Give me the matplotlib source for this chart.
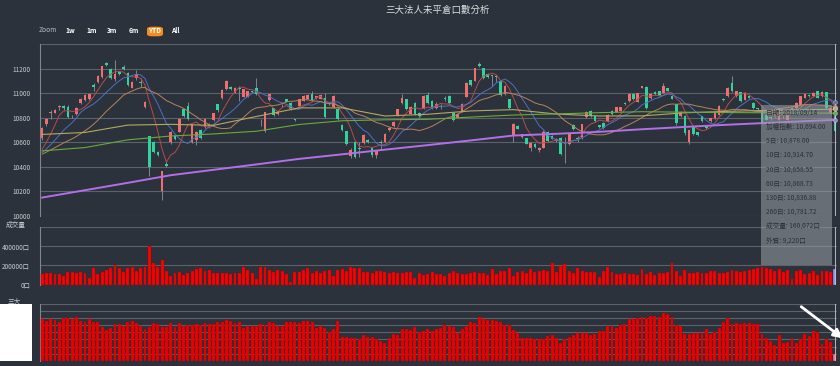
import matplotlib
matplotlib.use("Agg")
import matplotlib.pyplot as plt
from matplotlib.patches import Rectangle, FancyBboxPatch, FancyArrowPatch
import numpy as np
import pandas as pd

plt.rcParams['font.family'] = ['Noto Sans CJK TC', 'DejaVu Sans']

# ---- data ----
title = "三大法人未平倉口數分析"

opens = [10631, 10746, 10838, 10841, 10888, 10895, 10890, 10818, 10827, 10922,
         10942, 10950, 11064, 11091, 11132, 11243, 11200, 11113, 11175, 11216,
         11167, 11045, 11127, 11090, 10887, 10650, 10604, 10523, 10207, 10425,
         10604, 10648, 10686, 10868, 10895, 10604, 10615, 10697, 10724, 10735,
         10778, 10909, 10963, 11031, 11053, 11004, 11040, 10972, 10972, 11013,
         11040, 10740, 10691, 10944, 10876, 10833, 10900, 10950, 10920, 10783,
         10895, 10940, 10955, 10996, 10960, 10955, 10958, 10915, 10887, 10868,
         10740, 10691, 10487, 10604, 10550, 10597, 10620, 10555, 10495, 10600,
         10604, 10700, 10730, 10814, 10922, 10950, 10833, 10922, 10835, 10876,
         10982, 10940, 10880, 10895, 10960, 10977, 10841, 10800, 10854, 10969,
         11105, 11099, 11241, 11203, 11155, 11140, 11135, 11099, 10990, 10950,
         10651, 10735, 10640, 10631, 10555, 10590, 10540, 10555, 10686, 10655,
         10610, 10631, 10590, 10588, 10738, 10630, 10637, 10805, 10854, 10810,
         10738, 10760, 10773, 10854, 10850, 10858, 10915, 10936, 10996, 10930,
         11045, 11050, 10960, 11010, 11015, 11004, 11040, 10980, 10909, 10810,
         10814, 10604, 10725, 10680, 10811, 10729, 10770, 10797, 10825, 10948,
         10975, 11085, 10975, 11008, 10948, 10975, 10920, 10872, 10866, 10825,
         10799, 10811, 10784, 10813, 10784, 10880, 10880, 10907, 10962, 10977,
         10975, 11016, 10975, 11008, 10838, 10811]
closes = [10713, 10792, 10842, 10863, 10891, 10882, 10808, 10812, 10882, 10955,
          10985, 10990, 11050, 11140, 11222, 11227, 11127, 11154, 11154, 11195,
          11067, 11094, 11159, 11085, 10931, 10397, 10523, 10500, 10365, 10410,
          10686, 10625, 10787, 10814, 10792, 10746, 10686, 10637, 10792, 10738,
          10835, 10860, 11026, 11099, 11031, 11045, 11036, 11031, 11017, 11010,
          10990, 10738, 10846, 10990, 10822, 10849, 10905, 10930, 10875, 10781,
          10950, 10980, 10982, 10942, 10975, 10985, 10806, 10912, 10977, 10786,
          10697, 10582, 10541, 10479, 10545, 10659, 10604, 10500, 10530, 10598,
          10670, 10720, 10765, 10868, 10963, 10868, 10887, 10827, 10815, 10977,
          10922, 10876, 10915, 10890, 10955, 10922, 10778, 10830, 10914, 11086,
          11067, 11203, 11222, 11121, 11130, 11138, 11133, 10985, 11059, 10876,
          10751, 10710, 10665, 10588, 10596, 10560, 10550, 10686, 10609, 10630,
          10630, 10501, 10585, 10664, 10705, 10628, 10746, 10849, 10814, 10770,
          10722, 10718, 10822, 10830, 10885, 10885, 10912, 10996, 10950, 11000,
          11055, 10876, 10995, 10990, 10985, 11059, 11020, 10955, 10759, 10850,
          10678, 10697, 10665, 10660, 10770, 10715, 10797, 10844, 10899, 10946,
          11044, 11016, 11016, 10934, 11003, 10962, 10880, 10870, 10756, 10783,
          10797, 10871, 10880, 10811, 10825, 10866, 10920, 10975, 10989, 10975,
          11003, 10962, 11008, 10880, 10880, 10694]
highs = [10722, 10800, 10860, 10870, 10905, 10905, 10905, 10825, 10890, 10960,
         10990, 10995, 11085, 11145, 11225, 11250, 11205, 11268, 11180, 11230,
         11175, 11100, 11190, 11120, 10940, 10655, 10610, 10530, 10370, 10445,
         10695, 10655, 10795, 10875, 10925, 10750, 10690, 10705, 10800, 10760,
         10840, 10915, 11030, 11105, 11060, 11050, 11055, 11035, 11020, 11020,
         11120, 10790, 10850, 10995, 10880, 10855, 10915, 10955, 10925, 10790,
         10955, 10985, 10990, 11020, 10980, 10990, 11000, 10930, 10985, 10875,
         10745, 10695, 10550, 10610, 10600, 10665, 10625, 10560, 10535, 10620,
         10675, 10725, 10770, 10875, 10990, 10955, 10892, 10930, 10845, 10985,
         11010, 10945, 10925, 10910, 10980, 10985, 10850, 10835, 10920, 11090,
         11110, 11208, 11250, 11208, 11160, 11145, 11145, 11105, 11063, 10955,
         10755, 10740, 10670, 10636, 10600, 10595, 10560, 10700, 10690, 10660,
         10635, 10640, 10640, 10670, 10745, 10650, 10750, 10855, 10860, 10815,
         10742, 10765, 10827, 10860, 10890, 10890, 10925, 11000, 11000, 11005,
         11060, 11055, 11000, 11015, 11020, 11085, 11045, 10985, 10915, 10855,
         10820, 10700, 10730, 10685, 10815, 10735, 10800, 10850, 10905, 10960,
         11050, 11140, 11020, 11012, 11008, 10980, 10925, 10880, 10870, 10830,
         10810, 10876, 10885, 10820, 10830, 10885, 10925, 10980, 11000, 10990,
         11008, 11020, 11015, 11012, 10885, 10815]
lows = [10622, 10735, 10790, 10835, 10865, 10860, 10800, 10800, 10820, 10915,
        10935, 10945, 11020, 11085, 11125, 11220, 11115, 11100, 11145, 11185,
        11060, 11040, 11110, 11050, 10880, 10324, 10515, 10490, 10134, 10395,
        10590, 10615, 10680, 10808, 10785, 10595, 10580, 10625, 10715, 10715,
        10770, 10850, 10955, 11025, 11025, 11000, 10940, 10965, 10965, 11000,
        10985, 10735, 10685, 10935, 10815, 10825, 10890, 10925, 10865, 10770,
        10890, 10935, 10950, 10935, 10955, 10950, 10800, 10900, 10880, 10780,
        10690, 10575, 10470, 10470, 10480, 10590, 10598, 10480, 10470, 10540,
        10600, 10695, 10725, 10810, 10915, 10860, 10828, 10820, 10800, 10870,
        10915, 10870, 10875, 10870, 10940, 10915, 10770, 10795, 10850, 10965,
        11060, 11095, 11215, 11115, 11125, 11060, 11090, 10980, 10985, 10870,
        10600, 10705, 10635, 10582, 10530, 10555, 10525, 10550, 10605, 10625,
        10605, 10495, 10430, 10580, 10700, 10600, 10630, 10800, 10808, 10765,
        10715, 10712, 10768, 10825, 10845, 10852, 10905, 10930, 10945, 10925,
        11040, 10870, 10955, 10985, 10980, 11000, 11015, 10950, 10740, 10805,
        10660, 10590, 10660, 10655, 10765, 10710, 10765, 10790, 10820, 10935,
        10970, 11010, 10970, 10930, 10944, 10958, 10875, 10860, 10750, 10778,
        10785, 10805, 10778, 10800, 10780, 10860, 10875, 10900, 10958, 10965,
        10970, 10958, 10970, 10875, 10830, 10690]

# closes before the first shown day (only feed the short moving averages)
prior_closes = [10470, 10480, 10500, 10510, 10495, 10480, 10470, 10490, 10505, 10515,
                10500, 10485, 10490, 10500, 10480, 10495, 10500, 10505, 10495]

# long moving averages read every 10 days
long_ma_idx = [0, 10, 20, 30, 40, 50, 60, 70, 80, 90, 100, 110, 120, 130, 140, 150, 160, 170, 180, 185]
ma60 = [10664, 10680, 10740, 10746, 10738, 10810, 10880, 10880, 10814, 10828,
        10855, 10866, 10830, 10814, 10815, 10840, 10852, 10860, 10866, 10869]
ma130 = [10530, 10557, 10620, 10651, 10668, 10690, 10745, 10775, 10783, 10787,
         10805, 10822, 10831, 10841, 10849, 10845, 10842, 10840, 10838, 10837]
ma260 = [10150, 10210, 10270, 10332, 10376, 10420, 10465, 10502, 10540, 10577,
         10615, 10655, 10669, 10685, 10706, 10725, 10743, 10759, 10775, 10782]

volume = [110, 117, 117, 107, 107, 93, 131, 134, 124, 131,
          121, 66, 176, 107, 134, 152, 169, 203, 169, 134,
          169, 186, 141, 169, 179, 400, 228, 179, 255, 145,
          93, 124, 131, 100, 117, 145, 159, 169, 141, 152,
          120, 117, 121, 117, 107, 124, 117, 186, 152, 124, 59,
          186, 179, 152, 134, 152, 145, 114, 24, 134, 134,
          152, 169, 117, 138, 124, 141, 152, 90, 152, 162,
          141, 186, 169, 176, 134, 131, 117, 141, 138, 134,
          117, 134, 117, 124, 134, 134, 66, 124,
          100, 110, 134, 110, 110, 93, 117, 145, 124, 110,
          110, 117, 131, 124, 124, 100, 159, 110, 141, 141,
          169, 90, 134, 141, 117, 159, 131, 145, 152, 145,
          221, 131, 193, 214, 145, 117, 176, 145, 131, 134, 130,
          79, 145, 186, 131, 110, 110, 117, 114, 110, 100,
          159, 107, 131, 100, 117, 117, 131, 221, 141, 90,
          152, 117, 117, 131, 124, 124, 141, 141, 124, 124,
          131, 152, 141, 134, 141, 152, 162, 169, 186, 169,
          159, 138, 159, 131, 152, 55, 145, 152, 107, 117,
          145, 100, 145, 141, 134, 160.072]
volume = [v * 1000 for v in volume]

big3 = [29140, 28200, 29140, 28670, 27500, 29850, 29850, 29140, 30550, 28200,
        27500, 29140, 27500, 27500, 23500, 21620, 22800, 25850, 25850, 24440,
        27260, 27730, 26320, 24680, 22330, 23500, 26320, 25620, 23970, 23970,
        26320, 23970, 26320, 24440, 25150, 25150, 25620, 25150, 26320, 25850,
        26000, 27500, 27260, 28670, 27730, 26790, 27260, 23030, 24440, 24680, 24680,
        25620, 25150, 27030, 26320, 24440, 24440, 27260, 27260, 27260, 26320,
        27730, 27730, 27260, 23030, 24440, 23030, 20210, 22560, 27970, 16920,
        16450, 15980, 15980, 15510, 17860, 16920, 16920, 15040, 13630, 12690,
        15980, 18800, 18100, 22560, 22560, 21620, 23500, 20210,
        20900, 22560, 21150, 22090, 23270, 24910, 24440, 23500, 19510, 22090,
        24680, 27030, 26320, 31020, 29380, 28670, 28440, 28200, 27260, 24910,
        25150, 21860, 19270, 16220, 15750, 15750, 15040, 15040, 15040, 17390,
        17860, 15750, 12220, 15040, 16690, 17860, 19270, 19270, 19270, 18330, 19000,
        20680, 21150, 24440, 24440, 22800, 24910, 25850, 29140, 29140, 30080,
        30550, 30080, 31490, 31490, 31020, 33370, 32670, 31020, 24910, 24440,
        18800, 18800, 19270, 19270, 19270, 22090, 18800, 20210, 23030, 27260,
        29850, 25850, 26320, 25850, 26320, 26320, 25850, 25850, 18800, 16220,
        14100, 11050, 17860, 12220, 13400, 15980, 12690, 15510, 18800, 17390,
        20680, 20210, 11750, 15040, 13400, 4700]

tooltip_lines = ["日期: 2018/09/14", "加權指數: 10,694.00", "5日: 10,878.00", "10日: 10,914.70",
                 "20日: 10,858.55", "60日: 10,868.73", "130日: 10,836.88", "260日: 10,781.72",
                 "成交量: 160,072口", "外資: 9,220口"]
zoom_buttons = ["1w", "1m", "3m", "6m", "YTD", "All"]

# ---- figure ----
W, H = 840, 366
bg = '#2b323b'
grid_c = '#5c626a'
text_c = '#c9cbcf'

fig = plt.figure(figsize=(W / 100, H / 100), dpi=100, facecolor=bg)


def fx(x):
    return x / W


def fy(y):
    return 1 - y / H


n = len(closes)
x = np.arange(n)
opens = np.array(opens)
closes = np.array(closes)


def style(ax, ylo, yhi, ticks, labels):
    ax.set_facecolor(bg)
    ax.set_xlim(-0.5, n - 0.5)
    ax.set_ylim(ylo, yhi)
    for s in ['top', 'right', 'bottom']:
        ax.spines[s].set_visible(False)
    ax.spines['left'].set_color('#80868d')
    ax.spines['left'].set_linewidth(0.8)
    ax.set_xticks([])
    ax.set_yticks(ticks)
    ax.set_yticklabels(labels)
    ax.tick_params(axis='y', length=0, pad=7, labelsize=4.6, labelcolor=text_c)
    for t in ticks:
        ax.axhline(t, color=grid_c, lw=0.8, zorder=0)


ax1 = fig.add_axes([fx(40), fy(216), fx(797), 172 / H])
ax2 = fig.add_axes([fx(40), fy(284.7), fx(797), 58 / H])
ax3 = fig.add_axes([fx(40), fy(360.7), fx(797), 56.7 / H])

pticks = list(range(10000, 11401, 200))
style(ax1, 10000, 11400, pticks, [str(t) for t in pticks[:-1]] + [""])
vticks = [0, 200000, 400000, 600000]
style(ax2, 0, 600000, vticks, ["0口", "200000口", "400000口", ""])
bticks = list(range(0, 40001, 5000))
style(ax3, 0, 40000, bticks, [""] * len(bticks))

# candles
up = closes >= opens
ccol = np.where(up, '#f26d70', '#2fd39b')
ax1.vlines(x, lows, highs, color='#8d949b', lw=0.6, zorder=2)
body = np.maximum(np.abs(closes - opens), 6)
ax1.bar(x, body, bottom=np.minimum(opens, closes), width=0.62, color=ccol, zorder=3)

# moving averages
allc = pd.Series(list(prior_closes) + list(closes))
k = len(prior_closes)
ma5 = allc.rolling(5).mean().to_numpy()[k:]
ma10 = allc.rolling(10).mean().to_numpy()[k:]
ma20 = allc.rolling(20).mean().to_numpy()[k:]
ax1.plot(x, ma5, color='#b34c4c', lw=0.7, zorder=4)
ax1.plot(x, ma10, color='#4d6fc4', lw=0.7, zorder=4)
ax1.plot(x, ma20, color='#b8825c', lw=0.7, zorder=4)
ax1.plot(long_ma_idx, ma60, color='#b4a863', lw=0.8, zorder=4)
ax1.plot(long_ma_idx, ma130, color='#69aa3d', lw=0.8, zorder=4)
ax1.plot(long_ma_idx, ma260, color='#b46fe6', lw=1.4, zorder=4)
for val, c in [(ma10[-1], '#4d6fc4'), (ma5[-1], '#b34c4c'), (ma20[-1], '#b8825c'),
               (ma60[-1], '#b4a863'), (ma130[-1], '#69aa3d'), (ma260[-1], '#b46fe6')]:
    ax1.plot([n - 1], [val], 'o', ms=2.8, color=c, mec='#dddddd', mew=0.3, zorder=6)

# volume and big three
vcol = ['#ff0000'] * (n - 1) + ['#7b9cff']
ax2.bar(x, volume, width=0.68, color=vcol, edgecolor='#a00000', linewidth=0.25, zorder=3)
bcol = ['#ee0000'] * (n - 1) + ['#ff6f91']
ax3.bar(x, big3, width=0.68, color=bcol, edgecolor='#a00000', linewidth=0.25, zorder=3)

for ax in (ax1, ax2, ax3):
    ax.axvline(n - 1, color='#c8cbcf', lw=0.6, zorder=5)

# title and range buttons
fig.text(fx(438), fy(10), title, ha='center', va='center', color='#dcdde0', fontsize=6.8)
fig.text(fx(39), fy(30.5), "Zoom", ha='left', va='center', color='#b8bbc0', fontsize=4.8)
btn_x = [70, 91.5, 112.5, 133.5, 155, 175.5]
for lab, bx in zip(zoom_buttons, btn_x):
    if lab == "YTD":
        fig.add_artist(FancyBboxPatch((fx(147), fy(36.3)), fx(16), 9.6 / H,
                                      boxstyle="round,pad=0,rounding_size=0.006",
                                      transform=fig.transFigure, facecolor='#f48c1e',
                                      edgecolor='none'))
    fig.text(fx(bx), fy(30.5), lab, ha='center', va='center', color='white',
             fontsize=4.8, fontweight='bold')

fig.text(fx(6), fy(225), "成交量", ha='left', va='center', color=text_c, fontsize=4.8)
fig.text(fx(8), fy(301), "三大", ha='left', va='center', color=text_c, fontsize=4.8)

# tooltip
fig.add_artist(Rectangle((fx(761), fy(265)), fx(71), 160 / H, transform=fig.transFigure,
                         facecolor='#9aa0a8', alpha=0.55, edgecolor='none', zorder=8))
for i, line in enumerate(tooltip_lines):
    fig.text(fx(766), fy(112.5 + 14.2 * i), line, ha='left', va='center',
             color='#2c3138', fontsize=4.8, zorder=9)

# white box over the lower axis labels
fig.add_artist(Rectangle((0, fy(361)), fx(32), 57 / H, transform=fig.transFigure,
                         facecolor='white', edgecolor='none', zorder=10))

# white arrow pointing to the last bar
fig.add_artist(FancyArrowPatch((fx(799), fy(305)), (fx(845), fy(340)), transform=fig.transFigure,
                               arrowstyle='-|>', mutation_scale=13, color='white', lw=2.0, zorder=10))

fig.savefig("out.png", dpi=100, facecolor=bg)
